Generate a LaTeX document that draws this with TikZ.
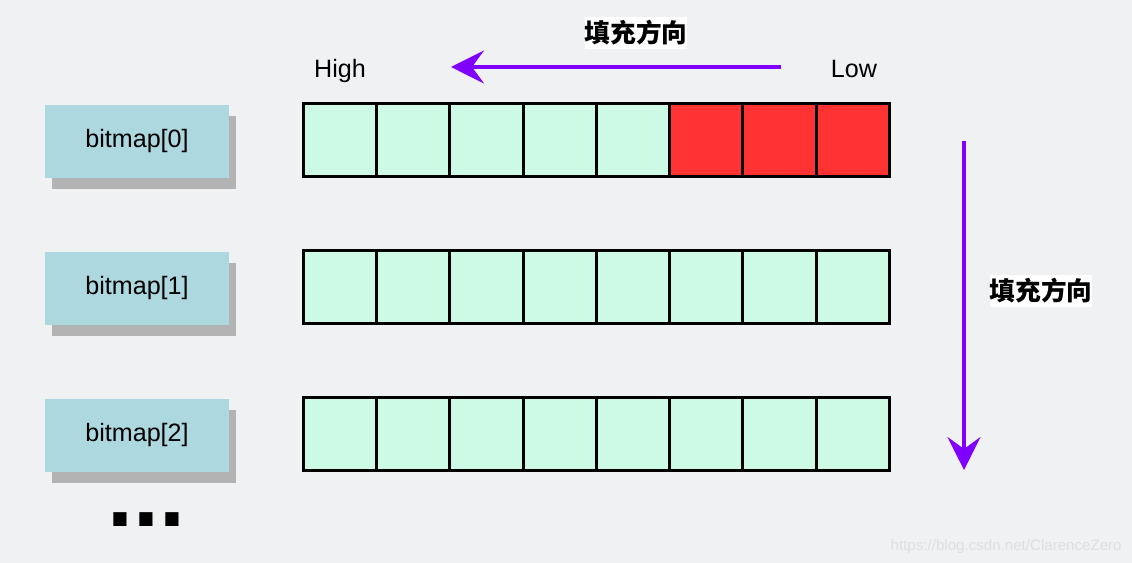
\documentclass[tikz,border=0pt]{standalone}
\usepackage{fontspec}
\setmainfont{Liberation Sans}
\newfontfamily\cjkfont{Noto Sans CJK SC}
\usepackage{tikz}
\usetikzlibrary{arrows.meta,positioning,shadows}
\definecolor{bgGray}{RGB}{240,241,243}
\definecolor{wordBlue}{RGB}{173,216,224}
\definecolor{shadowGray}{RGB}{179,179,179}
\definecolor{bitGreen}{RGB}{204,250,228}
\definecolor{bitRed}{RGB}{255,51,51}
\definecolor{fillPurple}{RGB}{127,0,255}
\definecolor{markGray}{RGB}{222,223,226}
\tikzset{
  wordBox/.style={rectangle,fill=wordBlue,minimum width=3.68cm,minimum height=1.46cm,
                  font=\fontsize{14.3}{17}\selectfont,
                  drop shadow={shadow xshift=0.14cm,shadow yshift=-0.22cm,fill=shadowGray,opacity=1}},
  bitCell/.style={rectangle,draw=black,line width=1.7pt,fill=#1,inner sep=0pt,outer sep=0pt,
                  minimum width=1.465cm,minimum height=1.46cm},
  fillArrow/.style={-{Stealth[length=0.66cm,width=0.66cm,inset=0.24cm]},line width=2pt,fillPurple},
  dirLabel/.style={fill=white,inner xsep=0pt,inner ysep=2pt,
                   font=\cjkfont\bfseries\fontsize{14.6}{17}\selectfont},
  endLabel/.style={anchor=base,inner sep=0pt,font=\fontsize{14.3}{17}\selectfont},
}
\begin{document}
\begin{tikzpicture}[x=0.02cm,y=-0.02cm]
  \fill[bgGray] (0,0) rectangle (1132,563);
  \useasboundingbox (0,0) rectangle (1132,563);
  % words of the bitmap
  \foreach \r/\y in {0/141.5,1/288.5,2/435.5}{
    \node[wordBox](word\r) at (137,\y) {bitmap[\r]};
  }
  % bits, low end on the right; \n = last green bit
  \foreach \r/\y/\n in {0/140/4,1/287/7,2/434/7}{
    \node[bitCell=bitGreen](bit\r0) at (340.1,\y) {};
    \foreach \c [remember=\c as \q (initially 0)] in {1,...,7}{
      \ifnum\c>\n \def\clr{bitRed}\else\def\clr{bitGreen}\fi
      \node[bitCell=\clr,right=0pt of bit\r\q](bit\r\c) {};
    }
  }
  \node[endLabel](high) at (340,78) {High};
  \node[endLabel](low) at (854,78) {Low};
  \coordinate (rowStart) at (781,67);
  \coordinate (rowEnd) at (451,67);
  \draw[fillArrow](rowStart)--(rowEnd);
  \node[dirLabel](rowDir) at (636,33) {填充方向};
  \coordinate (colStart) at (964,141);
  \coordinate (colEnd) at (964,470);
  \draw[fillArrow](colStart)--(colEnd);
  \node[dirLabel](colDir) at (1041,291) {填充方向};
  \node[anchor=base,inner sep=0pt,font=\bfseries\fontsize{53}{60}\selectfont](dots) at (146.5,526) {...};
  \node[anchor=base east,inner sep=0pt,text=markGray,font=\fontsize{8.6}{10}\selectfont](mark)
      at (1122,550) {https://blog.csdn.net/ClarenceZero};
\end{tikzpicture}
\end{document}
